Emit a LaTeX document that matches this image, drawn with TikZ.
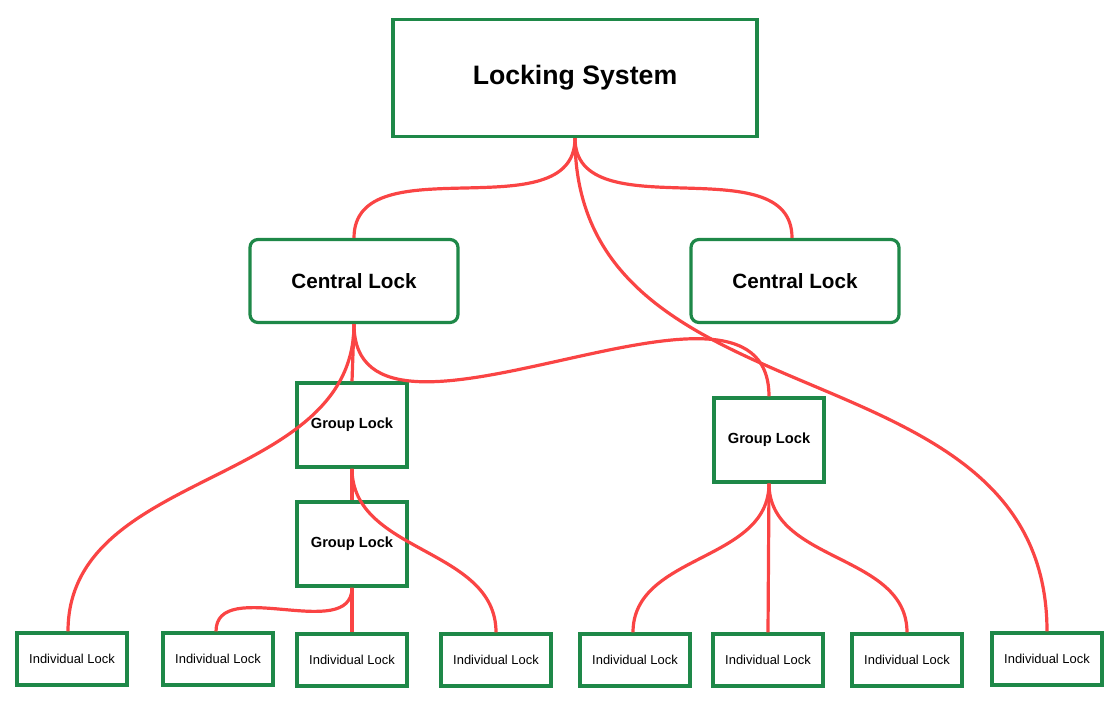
\documentclass[tikz,border=0pt]{standalone}
\usepackage{fontspec}
\setmainfont{Liberation Sans}
\definecolor{boxgreen}{RGB}{30,136,72}
\definecolor{linkred}{RGB}{250,68,68}
\tikzset{
  box/.style={draw=boxgreen, line width=2.4pt, fill=white, inner sep=0pt},
  top/.style={box, minimum width=364*0.75pt, minimum height=117*0.75pt, font=\bfseries\fontsize{20}{24}\selectfont},
  central/.style={box, rounded corners=6pt, minimum width=208*0.75pt, minimum height=83*0.75pt, font=\bfseries\fontsize{15.5}{18}\selectfont},
  group/.style={box, minimum width=110*0.75pt, minimum height=84*0.75pt, font=\bfseries\fontsize{11}{13}\selectfont},
  single/.style={box, minimum width=110*0.75pt, minimum height=52*0.75pt, font=\fontsize{9.7}{11}\selectfont},
  link/.style={draw=linkred, line width=2.4pt}
}
\begin{document}
\begin{tikzpicture}[x=0.75pt, y=-0.75pt]
  \useasboundingbox (0,0) rectangle (1106,724);

  \node[top] (sys) at (575,78) {Locking System};
  \node[central] (cl) at (354,281) {Central Lock};
  \node[central] (cr) at (795,281) {Central Lock};

  \node[group] (g1) at (352,425) {Group Lock};
  \node[group] (g2) at (352,544) {Group Lock};
  \node[group] (g3) at (769,440) {Group Lock};

  \node[single] (i1) at (72,659) {Individual Lock};
  \node[single] (i2) at (218,659) {Individual Lock};
  \node[single] (i3) at (352,660) {Individual Lock};
  \node[single] (i4) at (496,660) {Individual Lock};
  \node[single] (i5) at (635,660) {Individual Lock};
  \node[single] (i6) at (768,660) {Individual Lock};
  \node[single] (i7) at (907,660) {Individual Lock};
  \node[single] (i8) at (1047,659) {Individual Lock};

  % links from the top
  \begin{scope}[on background layer/.style={}]
  \path[link] (sys.south) to[out=-90, in=90] (cl.north);
  \path[link] (sys.south) to[out=-90, in=90] ([xshift=-3*0.75pt]cr.north);
  \path[link] (sys.south) to[out=-90, in=90, looseness=1.1] (i8.north);

  % links from the left central lock
  \path[link] (cl.south) to[out=-90, in=90] ([xshift=-4*0.75pt]i1.north);
  \path[link] (cl.south) -- (g1.north);
  \path[link] (cl.south) to[out=-90, in=90] (g3.north);

  \path[link] (g1.south) -- (g2.north);
  \path[link] (g1.south) to[out=-90, in=90] (i4.north);
  \path[link] (g2.south) to[out=-90, in=90] ([xshift=-2*0.75pt]i2.north);
  \path[link] (g2.south) -- (i3.north);

  \path[link] (g3.south) to[out=-90, in=90] ([xshift=-2*0.75pt]i5.north);
  \path[link] (g3.south) -- (i6.north);
  \path[link] (g3.south) to[out=-90, in=90] (i7.north);
  \end{scope}
\end{tikzpicture}
\end{document}
